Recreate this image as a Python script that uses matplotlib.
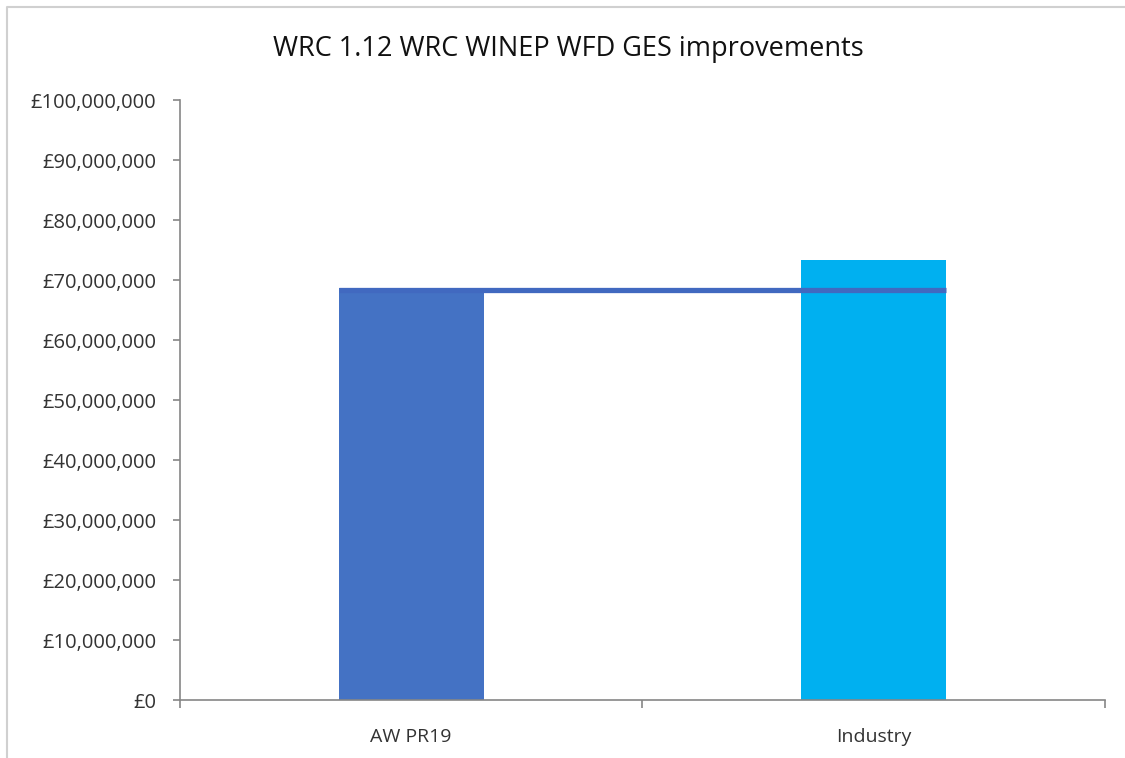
import matplotlib

matplotlib.use("Agg")
import matplotlib.pyplot as plt
from matplotlib.lines import Line2D
from matplotlib.ticker import FuncFormatter, FixedLocator

# values
categories = ["AW PR19", "Industry"]
costs = [68_700_000, 73_400_000]
bar_colors = ["#4472C4", "#00B0F0"]
aw_line = 68_300_000

plt.rcParams["font.family"] = ["Open Sans", "DejaVu Sans"]

fig = plt.figure(figsize=(11.25, 7.58), dpi=100)
ax = fig.add_axes([0.16, 0.0765, 0.822, 0.7915])

x = [i + 0.5 for i in range(len(categories))]
width = 0.314
ax.bar(x, costs, width=width, color=bar_colors, zorder=2)
ax.hlines(aw_line, x[0] - width / 2, x[-1] + width / 2,
          colors="#4169C0", linewidth=3.8, zorder=3)

ax.set_xlim(0, len(categories))
ax.set_ylim(0, 100_000_000)
ax.yaxis.set_major_locator(FixedLocator(range(0, 100_000_001, 10_000_000)))
ax.yaxis.set_major_formatter(FuncFormatter(lambda v, _: f"£{v:,.0f}"))

ax.set_xticks(x)
ax.set_xticklabels(categories)
ax.xaxis.set_minor_locator(FixedLocator(range(len(categories) + 1)))
ax.tick_params(axis="x", which="major", length=0, pad=20, labelsize=14, colors="#333333")
ax.tick_params(axis="x", which="minor", length=6, color="#868686", width=1.2)
ax.tick_params(axis="y", length=5, color="#868686", width=1.2, labelsize=14.5,
               labelcolor="#333333", pad=12)

for side in ("top", "right"):
    ax.spines[side].set_visible(False)
for side in ("left", "bottom"):
    ax.spines[side].set_color("#868686")
    ax.spines[side].set_linewidth(1.2)

fig.text(0.505, 0.935, "WRC 1.12 WRC WINEP WFD GES improvements",
         ha="center", va="center", fontsize=19.5, color="#111111")

# outer frame: only top and left edges are visible in the reference
fig.lines.append(Line2D([0.006, 0.006, 1.0], [0.0, 0.991, 0.991], transform=fig.transFigure,
                        color="#d0d0d0", linewidth=1.5))

fig.savefig("out.png", dpi=100)
